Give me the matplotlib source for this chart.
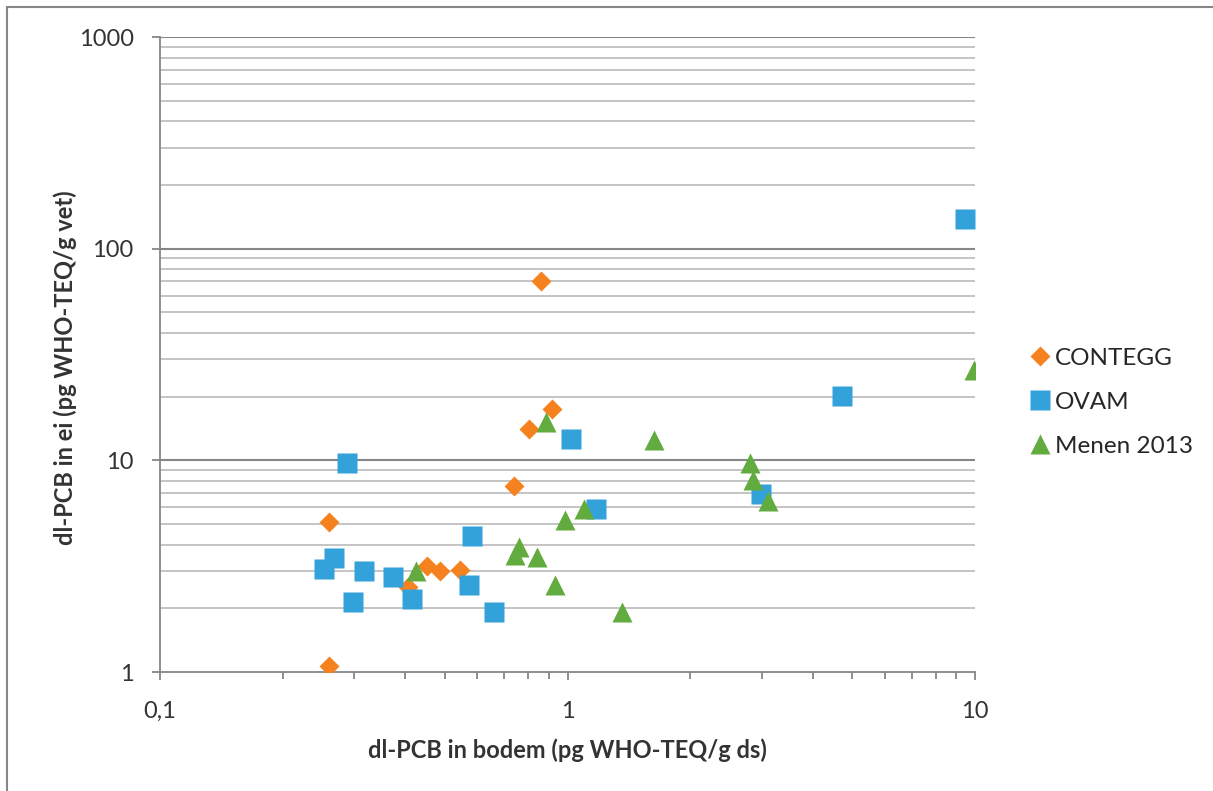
import numpy as np
import matplotlib
matplotlib.use('Agg')
import matplotlib.pyplot as plt
from matplotlib.ticker import FixedLocator, FuncFormatter, NullFormatter
from matplotlib.patches import Rectangle

plt.rcParams['font.family'] = ['Lato', 'DejaVu Sans']

# dl-PCB bodem (x) vs ei (y), per dataset
contegg_x = [0.260, 0.260, 0.452, 0.486, 0.545, 0.406, 0.739, 0.804, 0.916, 0.861]
contegg_y = [5.11, 1.07, 3.17, 3.00, 3.03, 2.52, 7.56, 14.1, 17.5, 70.3]

ovam_x = [0.288, 0.253, 0.267, 0.317, 0.298, 0.373, 0.415, 0.583, 0.573, 0.660,
          1.02, 1.175, 2.98, 4.72, 9.45]
ovam_y = [9.71, 3.07, 3.46, 3.00, 2.14, 2.81, 2.21, 4.39, 2.58, 1.92,
          12.6, 5.89, 6.93, 20.1, 138]

menen_x = [0.425, 0.743, 0.760, 0.842, 0.932, 0.986, 1.098, 1.36, 0.886, 1.63,
           2.80, 2.85, 3.10, 9.94]
menen_y = [3.00, 3.57, 3.89, 3.49, 2.58, 5.22, 5.89, 1.92, 15.2, 12.5,
           9.71, 8.07, 6.42, 26.7]

xlabels = {0.1: '0,1', 1: '1', 10: '10'}
ylabels = {1: '1', 10: '10', 100: '100', 1000: '1000'}

fig = plt.figure(figsize=(12.13, 7.91), dpi=100)
ax = fig.add_axes([0.1319, 0.1504, 0.8038 - 0.1319, 0.9532 - 0.1504])

ax.set_xscale('log')
ax.set_yscale('log')
ax.set_xlim(0.1, 10)
ax.set_ylim(1, 1000)

# horizontal grid: minor light, major darker
minors = [m * 10.0 ** e for e in range(0, 3) for m in range(2, 10)]
for v in minors:
    ax.axhline(v, color='#bfbfbf', lw=1.3, zorder=0)
for v in [10, 100, 1000]:
    ax.axhline(v, color='#868686', lw=1.5, zorder=0)

ax.plot(contegg_x, contegg_y, 'D', color='#f5821f', ms=10, mec='none', label='CONTEGG', zorder=3)
ax.plot(ovam_x, ovam_y, 's', color='#33a2da', ms=14, mec='none', label='OVAM', zorder=4)
ax.plot(menen_x, menen_y, '^', color='#62ab3e', ms=14, mec='none', label='Menen 2013', zorder=5)

for s in ['top', 'right']:
    ax.spines[s].set_visible(False)
for s in ['left', 'bottom']:
    ax.spines[s].set_color('#868686')
    ax.spines[s].set_linewidth(1.3)

ax.xaxis.set_major_locator(FixedLocator(list(xlabels)))
ax.xaxis.set_major_formatter(FuncFormatter(lambda v, p: xlabels.get(round(v, 1) if v < 1 else round(v), '')))
ax.xaxis.set_minor_locator(FixedLocator([m * 10.0 ** e for e in (-1, 0) for m in range(2, 10)]))
ax.xaxis.set_minor_formatter(NullFormatter())
ax.yaxis.set_major_locator(FixedLocator(list(ylabels)))
ax.yaxis.set_major_formatter(FuncFormatter(lambda v, p: ylabels.get(int(round(v)), '')))
ax.yaxis.set_minor_locator(FixedLocator([]))

ax.tick_params(axis='x', which='major', direction='out', length=6, width=1.3, color='#868686',
               pad=15, labelsize=17, labelcolor='#333333')
ax.tick_params(axis='x', which='minor', direction='out', length=5, width=1.3, color='#868686')
ax.tick_params(axis='y', which='major', direction='out', length=6, width=1.3, color='#868686',
               pad=13, labelsize=17, labelcolor='#333333')

ax.set_xlabel('dl-PCB in bodem (pg WHO-TEQ/g ds)', fontsize=17, fontweight='bold',
              color='#333333', labelpad=12)
ax.set_ylabel('dl-PCB in ei (pg WHO-TEQ/g vet)', fontsize=17, fontweight='bold',
              color='#333333', labelpad=14)
ax.yaxis.set_label_coords(-0.102, 0.48)

leg = ax.legend(loc='center left', bbox_to_anchor=(1.038, 0.425), frameon=False,
                fontsize=17.5, handletextpad=0.1, handlelength=1.0, labelspacing=0.95,
                labelcolor='#262626')

# outer chart border
fig.add_artist(Rectangle((7 / 1213, -0.5), 2, 1.5 - 7 / 791, transform=fig.transFigure,
                         fill=False, ec='#868686', lw=1.5))

fig.savefig('out.png', dpi=100)
